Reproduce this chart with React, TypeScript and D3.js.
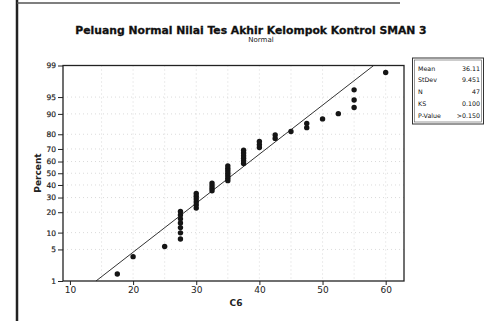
import React, { useEffect, useRef } from 'react';
import * as d3 from 'd3';

// Nilai tes akhir (C6), one entry per student
const scores = [
  17.5, 20, 25,
  27.5, 27.5, 27.5, 27.5, 27.5, 27.5, 27.5,
  30, 30, 30, 30, 30, 30,
  32.5, 32.5, 32.5, 32.5,
  35, 35, 35, 35, 35, 35, 35,
  37.5, 37.5, 37.5, 37.5, 37.5, 37.5,
  40, 40, 40,
  42.5, 42.5,
  45,
  47.5, 47.5,
  50, 52.5,
  55, 55, 55,
  60,
];

const xTicks = [10, 20, 30, 40, 50, 60];
const xGrid = [15, 20, 25, 30, 35, 40, 45, 50, 55, 60];
const pTicks = [1, 5, 10, 20, 30, 40, 50, 60, 70, 80, 90, 95, 99];

const statLabels = ['Mean', 'StDev', 'N', 'KS', 'P-Value'];
const statValues = ['36.11', '9.451', '47', '0.100', '>0.150'];
const mean = 36.11;
const stdev = 9.451;

// inverse normal CDF (Acklam approximation)
const probit = (p: number) => {
  const a = [-39.6968302866538, 220.946098424521, -275.928510446969, 138.357751867269, -30.6647980661472, 2.50662827745924];
  const b = [-54.4760987982241, 161.585836858041, -155.698979859887, 66.8013118877197, -13.2806815528857];
  const c = [-0.00778489400243029, -0.322396458041136, -2.40075827716184, -2.54973253934373, 4.37466414146497, 2.93816398269878];
  const d = [0.00778469570904146, 0.32246712907004, 2.445134137143, 3.75440866190742];
  const pl = 0.02425;
  if (p < pl) {
    const q = Math.sqrt(-2 * Math.log(p));
    return (((((c[0] * q + c[1]) * q + c[2]) * q + c[3]) * q + c[4]) * q + c[5]) / ((((d[0] * q + d[1]) * q + d[2]) * q + d[3]) * q + 1);
  }
  if (p > 1 - pl) {
    const q = Math.sqrt(-2 * Math.log(1 - p));
    return -(((((c[0] * q + c[1]) * q + c[2]) * q + c[3]) * q + c[4]) * q + c[5]) / ((((d[0] * q + d[1]) * q + d[2]) * q + d[3]) * q + 1);
  }
  const q = p - 0.5;
  const r = q * q;
  return (((((a[0] * r + a[1]) * r + a[2]) * r + a[3]) * r + a[4]) * r + a[5]) * q / (((((b[0] * r + b[1]) * r + b[2]) * r + b[3]) * r + b[4]) * r + 1);
};

const App: React.FC = () => {
  const svgRef = useRef<SVGSVGElement>(null);

  useEffect(() => {
    if (!svgRef.current) return;
    const svg = d3.select(svgRef.current);
    svg.selectAll('*').remove();

    const plot = { left: 63, right: 404, top: 65.5, bottom: 281 };
    const font = 'Verdana, "DejaVu Sans", sans-serif';

    const x = d3.scaleLinear().domain([8.9, 62.9]).range([plot.left, plot.right]);
    const zScale = d3.scaleLinear().domain([probit(0.01), probit(0.99)]).range([plot.bottom, plot.top]);
    const y = (pct: number) => zScale(probit(pct / 100));

    // page frame (scanned figure edges)
    svg.append('line').attr('x1', 17).attr('x2', 17).attr('y1', 0).attr('y2', 321)
      .attr('stroke', '#222').attr('stroke-width', 2.5);
    svg.append('line').attr('x1', 17).attr('x2', 400).attr('y1', 3).attr('y2', 3)
      .attr('stroke', '#555').attr('stroke-width', 1.5);

    // title
    svg.append('text').attr('x', 251).attr('y', 33.5).attr('text-anchor', 'middle')
      .style('font-family', font).style('font-weight', 'bold').style('font-size', '10.8px')
      .attr('fill', '#111').attr('stroke', '#111').attr('stroke-width', 0.3)
      .text('Peluang Normal Nilai Tes Akhir Kelompok Kontrol SMAN 3');
    svg.append('text').attr('x', 261).attr('y', 42).attr('text-anchor', 'middle')
      .style('font-family', font).style('font-size', '7px')
      .attr('fill', '#222').text('Normal');

    // grid
    const grid = svg.append('g').attr('stroke', '#ccc').attr('stroke-width', 0.7).attr('stroke-dasharray', '1,3');
    grid.selectAll('.gx').data(xGrid).join('line')
      .attr('x1', d => x(d)).attr('x2', d => x(d)).attr('y1', plot.top).attr('y2', plot.bottom);
    grid.selectAll('.gy').data(pTicks.slice(1, -1)).join('line')
      .attr('x1', plot.left).attr('x2', plot.right).attr('y1', d => y(d)).attr('y2', d => y(d));

    // fitted normal line
    const fitLine = d3.line<number>()
      .x(p => x(mean + stdev * probit(p / 100)))
      .y(p => y(p));
    svg.append('path').datum([1, 99]).attr('d', fitLine)
      .attr('fill', 'none').attr('stroke', '#333').attr('stroke-width', 1);

    // points, Minitab plotting positions (i - 0.3) / (n + 0.4)
    const sorted = scores.slice().sort(d3.ascending);
    const n = sorted.length;
    svg.append('g').selectAll('circle')
      .data(sorted.map((v, i) => ({ v, p: (i + 1 - 0.3) / (n + 0.4) * 100 })))
      .join('circle')
      .attr('cx', d => x(d.v)).attr('cy', d => y(d.p)).attr('r', 2.7)
      .attr('fill', '#151515');

    // plot frame
    svg.append('rect').attr('x', plot.left).attr('y', plot.top)
      .attr('width', plot.right - plot.left).attr('height', plot.bottom - plot.top)
      .attr('fill', 'none').attr('stroke', '#222').attr('stroke-width', 1.3);

    // axes
    const xAxis = svg.append('g').attr('transform', `translate(0,${plot.bottom})`)
      .call(d3.axisBottom(x).tickValues(xTicks).tickSize(4).tickPadding(2));
    xAxis.select('.domain').remove();
    xAxis.selectAll('text').style('font-family', font).style('font-size', '9px').attr('fill', '#222');
    xAxis.selectAll('line').attr('stroke', '#222');

    const yAxis = svg.append('g').attr('transform', `translate(${plot.left},0)`)
      .call(d3.axisLeft(zScale).tickValues(pTicks.map(p => probit(p / 100)))
        .tickFormat((_, i) => String(pTicks[i])).tickSize(5).tickPadding(2));
    yAxis.select('.domain').remove();
    yAxis.selectAll('text').style('font-family', font).style('font-size', '7.5px')
      .attr('fill', '#222').attr('stroke', '#222').attr('stroke-width', 0.2);
    yAxis.selectAll('line').attr('stroke', '#222');

    svg.append('text').attr('transform', 'translate(41,173) rotate(-90)').attr('text-anchor', 'middle')
      .style('font-family', font).style('font-weight', 'bold').style('font-size', '9px')
      .attr('fill', '#222').text('Percent');
    svg.append('text').attr('x', 236).attr('y', 306).attr('text-anchor', 'middle')
      .style('font-family', font).style('font-weight', 'bold').style('font-size', '9px')
      .attr('fill', '#222').text('C6');

    // stats box
    const box = svg.append('g');
    box.append('rect').attr('x', 412.5).attr('y', 58).attr('width', 71).attr('height', 66)
      .attr('fill', 'white').attr('stroke', '#333').attr('stroke-width', 1);
    box.append('rect').attr('x', 414.5).attr('y', 60).attr('width', 67).attr('height', 62)
      .attr('fill', 'none').attr('stroke', '#555').attr('stroke-width', 0.6);
    const rowY = d3.scalePoint().domain(statLabels).range([70.5, 118]);
    box.selectAll('.lab').data(statLabels).join('text')
      .attr('x', 418).attr('y', d => rowY(d)!)
      .style('font-family', font).style('font-size', '6.3px').attr('fill', '#111').text(d => d);
    box.selectAll('.val').data(statValues).join('text')
      .attr('x', 480).attr('y', (_, i) => rowY(statLabels[i])!).attr('text-anchor', 'end')
      .style('font-family', font).style('font-size', '6.3px').attr('fill', '#111').text(d => d);
  }, []);

  return (
    <svg ref={svgRef} width={485} height={321}
      style={{ position: 'absolute', left: 0, top: 0, background: 'white' }} />
  );
};

export default App;
